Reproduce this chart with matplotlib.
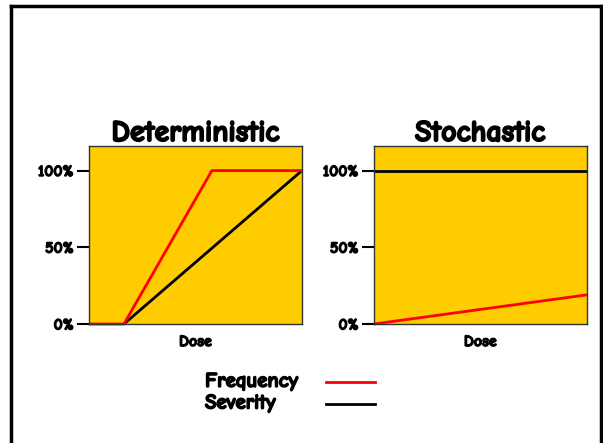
import matplotlib.pyplot as plt
import matplotlib.patheffects as pe
from matplotlib.lines import Line2D

# data (dose as fraction of axis, response in %)
det_freq_dose = [0.0, 0.164, 0.577, 1.0]
det_freq_resp = [0, 0, 100, 100]
det_sev_dose = [0.164, 1.0]
det_sev_resp = [0, 100]

sto_freq_dose = [0.0, 1.0]
sto_freq_resp = [0, 19]
sto_sev_dose = [0.0, 1.0]
sto_sev_resp = [100, 100]

titles = ["Deterministic", "Stochastic"]
yticks = [0, 50, 100]
ytick_labels = ["0%", "50%", "100%"]
legend_labels = ["Frequency", "Severity"]
legend_colors = ["red", "black"]

yellow = "#FFCC00"
plt.rcParams['font.family'] = ['Comic Neue', 'DejaVu Sans']

# fake bold: outline the glyphs
bold = [pe.withStroke(linewidth=0.9, foreground="black")]
bold_big = [pe.withStroke(linewidth=1.3, foreground="black")]

fig = plt.figure(figsize=(6.03, 4.43), dpi=100)

# slide border (no bottom edge)
for xs, ys in [([0.018, 0.018], [0, 0.986]), ([0.018, 0.996], [0.986, 0.986]), ([0.996, 0.996], [0, 0.986])]:
    fig.add_artist(Line2D(xs, ys, color="black", lw=2.5, transform=fig.transFigure))

panels = [
    (titles[0], det_freq_dose, det_freq_resp, det_sev_dose, det_sev_resp, 0.1476),
    (titles[1], sto_freq_dose, sto_freq_resp, sto_sev_dose, sto_sev_resp, 0.620),
]

for title, fx, fy, sx, sy, left in panels:
    ax = fig.add_axes([left, 0.2686, 0.3532, 0.4018])
    ax.set_facecolor(yellow)
    ax.plot(sx, sy, color="black", lw=2, solid_capstyle="butt", clip_on=False)
    ax.plot(fx, fy, color="red", lw=2, solid_capstyle="butt", clip_on=False)
    ax.set_xlim(0, 1)
    ax.set_ylim(0, 116)
    ax.set_xticks([])
    ax.set_yticks(yticks)
    ax.set_yticklabels(ytick_labels, fontsize=11.5, fontweight="bold", path_effects=bold)
    ax.tick_params(axis="y", length=9, width=1.5, pad=2)
    for sp in ax.spines.values():
        sp.set_color("#333333")
        sp.set_linewidth(1)
    ax.set_xlabel("Dose", fontsize=11.5, fontweight="bold", labelpad=8, path_effects=bold)
    ax.set_title(title, fontsize=21.5, fontweight="bold", pad=2, path_effects=bold_big)

# legend: labels on the left, line samples on the right
for i, (lab, col) in enumerate(zip(legend_labels, legend_colors)):
    y = 0.138 - i * 0.049
    fig.text(0.340, y, lab, fontsize=15, fontweight="bold", ha="left", va="center",
             path_effects=[pe.withStroke(linewidth=1.1, foreground="black")])
    fig.add_artist(Line2D([0.541, 0.622], [y, y], color=col, lw=2, transform=fig.transFigure))

fig.savefig("out.png", dpi=100)
